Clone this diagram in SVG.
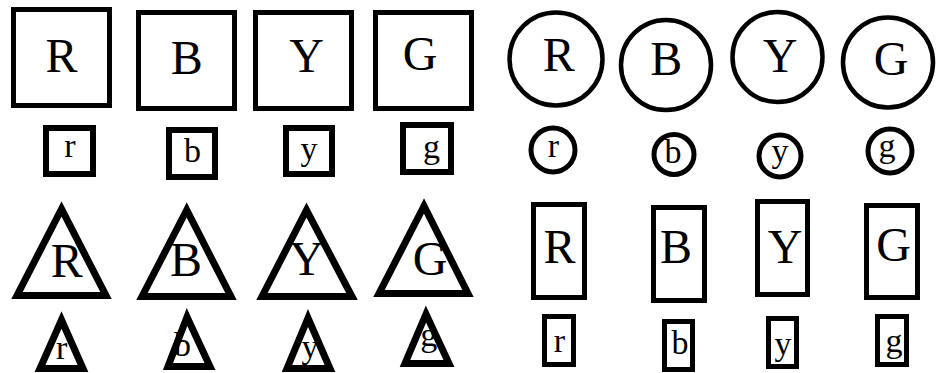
<svg xmlns="http://www.w3.org/2000/svg" width="937" height="373" viewBox="0 0 937 373">
<style>
.s{fill:#fff;stroke:#000;stroke-width:5}
.t{fill:#fff;stroke:#000;stroke-width:7;stroke-linejoin:miter;stroke-miterlimit:10}
.c{fill:#fff;stroke:#000;stroke-width:4.5}
.L{font-family:"Liberation Serif","Times New Roman",serif;font-size:48px;text-anchor:middle;fill:#000}
.l{font-family:"Liberation Serif","Times New Roman",serif;font-size:34px;text-anchor:middle;fill:#000}
</style>
<rect width="937" height="373" fill="#fff"/>
<g id="connectors"/>
<!-- squares -->
<g id="sq-R"><rect class="s" x="13.5" y="9.5" width="96" height="96"/><text class="L" x="61.5" y="72">R</text></g>
<g id="sq-B"><rect class="s" x="138.5" y="12.5" width="96" height="96"/><text class="L" x="186.7" y="74">B</text></g>
<g id="sq-Y"><rect class="s" x="255.5" y="12.5" width="96" height="96"/><text class="L" x="306.7" y="72">Y</text></g>
<g id="sq-G"><rect class="s" x="375.5" y="12.5" width="96" height="96"/><text class="L" x="420" y="70">G</text></g>
<g id="sq-r"><rect class="s" x="46" y="128" width="47" height="46" style="stroke-width:6"/><text class="l" x="70" y="157">r</text></g>
<g id="sq-b"><rect class="s" x="169" y="130" width="46" height="47" style="stroke-width:6"/><text class="l" x="192.5" y="162">b</text></g>
<g id="sq-y"><rect class="s" x="286" y="128" width="46" height="46" style="stroke-width:6"/><text class="l" x="309" y="160">y</text></g>
<g id="sq-g"><rect class="s" x="403" y="125" width="48" height="47" style="stroke-width:6"/><text class="l" x="431.5" y="158">g</text></g>
<!-- circles -->
<g id="ci-R"><circle class="c" cx="556" cy="59" r="46.5"/><text class="L" x="558.7" y="71">R</text></g>
<g id="ci-B"><circle class="c" cx="666" cy="65" r="45"/><text class="L" x="666.3" y="75">B</text></g>
<g id="ci-Y"><circle class="c" cx="777.5" cy="57" r="45"/><text class="L" x="780" y="72">Y</text></g>
<g id="ci-G"><circle class="c" cx="888" cy="62.5" r="45"/><text class="L" x="891" y="75">G</text></g>
<g id="ci-r"><circle class="c" cx="553" cy="150" r="22" style="stroke-width:5"/><text class="l" x="553.5" y="157">r</text></g>
<g id="ci-b"><circle class="c" cx="674" cy="154.5" r="20" style="stroke-width:5"/><text class="l" x="673" y="163">b</text></g>
<g id="ci-y"><circle class="c" cx="780" cy="156" r="21" style="stroke-width:5"/><text class="l" x="780" y="162">y</text></g>
<g id="ci-g"><circle class="c" cx="890" cy="151" r="22" style="stroke-width:5"/><text class="l" x="887" y="157">g</text></g>
<!-- triangles -->
<g id="tr-R"><polygon class="t" points="61.5,209 17,295.5 106,295.5"/><text class="L" x="66.7" y="277">R</text></g>
<g id="tr-B"><polygon class="t" points="186.7,210 142,296.5 231,296.5"/><text class="L" x="186" y="276">B</text></g>
<g id="tr-Y"><polygon class="t" points="306.5,210 262,296.5 352,296.5"/><text class="L" x="306.7" y="275">Y</text></g>
<g id="tr-G"><polygon class="t" points="424,206 379,293.5 468,293.5"/><text class="L" x="430" y="275">G</text></g>
<g id="tr-r"><polygon class="t" points="61.5,320 40,368.5 83,368.5"/><text class="l" x="61.7" y="359">r</text></g>
<g id="tr-b"><polygon class="t" points="187,317 168,366.5 210,366.5"/><text class="l" x="182.5" y="356">b</text></g>
<g id="tr-y"><polygon class="t" points="308,318 287,368.5 330,368.5"/><text class="l" x="310" y="358">y</text></g>
<g id="tr-g"><polygon class="t" points="426,314 405,363.5 449,363.5"/><text class="l" x="428.7" y="346">g</text></g>
<!-- tall rectangles -->
<g id="re-R"><rect class="s" x="533.5" y="204.5" width="51" height="93"/><text class="L" x="559.5" y="263">R</text></g>
<g id="re-B"><rect class="s" x="653.5" y="207.5" width="51" height="93"/><text class="L" x="676" y="263">B</text></g>
<g id="re-Y"><rect class="s" x="757.5" y="201.5" width="50" height="93"/><text class="L" x="785" y="263">Y</text></g>
<g id="re-G"><rect class="s" x="866.5" y="205.5" width="51" height="92"/><text class="L" x="893.5" y="261">G</text></g>
<g id="re-r"><rect class="s" x="544.5" y="316.5" width="29" height="48"/><text class="l" x="559.5" y="352">r</text></g>
<g id="re-b"><rect class="s" x="664.5" y="321.5" width="28" height="48"/><text class="l" x="680" y="354">b</text></g>
<g id="re-y"><rect class="s" x="768.5" y="318.5" width="28" height="48"/><text class="l" x="783" y="355">y</text></g>
<g id="re-g"><rect class="s" x="877.5" y="316.5" width="29" height="48"/><text class="l" x="894" y="352">g</text></g>
</svg>
